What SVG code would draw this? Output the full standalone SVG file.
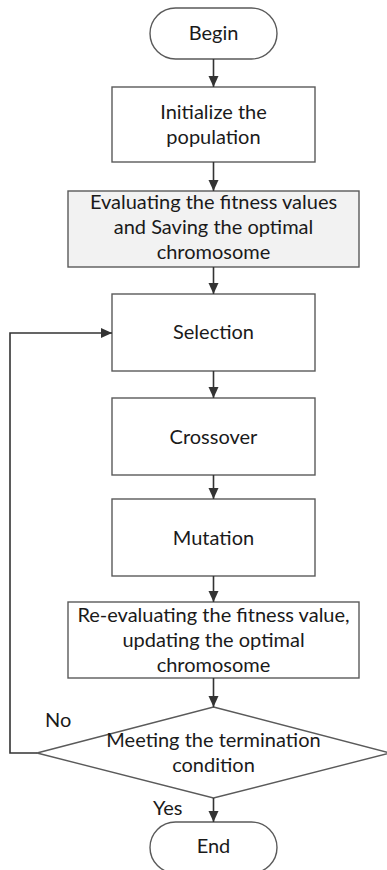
<svg xmlns="http://www.w3.org/2000/svg" width="387" height="870" viewBox="0 0 387 870">
<defs>
<marker id="ah" markerWidth="12" markerHeight="12" refX="11" refY="5" orient="auto" markerUnits="userSpaceOnUse">
<path d="M0,0 L11,5 L0,10 z" fill="#333"/>
</marker>
</defs>
<style>
.box{fill:#fff;stroke:#5a5a5a;stroke-width:1.4}
.gray{fill:#f2f2f2}
.t{font-family:Lato,"Liberation Sans",sans-serif;font-size:20px;fill:#1a1a1a;text-anchor:middle}
.lb{font-family:Lato,"Liberation Sans",sans-serif;font-size:20px;fill:#1a1a1a}
.c{fill:none;stroke:#333;stroke-width:1.6;marker-end:url(#ah)}
</style>
<rect width="387" height="870" fill="#fff"/>
<g id="begin"><rect class="box" x="150" y="8" width="127" height="51" rx="25.5"/><text class="t" x="213.5" y="40">Begin</text></g>
<g id="init"><rect class="box" x="112" y="87" width="203" height="75"/><text class="t" x="213.5" y="119">Initialize the</text><text class="t" x="213.5" y="144">population</text></g>
<g id="eval"><rect class="box gray" x="68" y="191" width="291" height="76"/><text class="t" x="213.5" y="209">Evaluating the fitness values</text><text class="t" x="213.5" y="234">and Saving the optimal</text><text class="t" x="213.5" y="259">chromosome</text></g>
<g id="selection"><rect class="box" x="112" y="294" width="203" height="77"/><text class="t" x="213.5" y="339">Selection</text></g>
<g id="crossover"><rect class="box" x="112" y="398" width="203" height="77"/><text class="t" x="213.5" y="444">Crossover</text></g>
<g id="mutation"><rect class="box" x="112" y="499" width="203" height="77"/><text class="t" x="213.5" y="545">Mutation</text></g>
<g id="reeval"><rect class="box" x="68" y="602" width="291" height="76"/><text class="t" x="213.5" y="622">Re-evaluating the fitness value,</text><text class="t" x="213.5" y="647">updating the optimal</text><text class="t" x="213.5" y="672">chromosome</text></g>
<g id="decision"><polygon class="box" points="213.5,707 390,753 213.5,798 37,753"/><text class="t" x="213.5" y="747">Meeting the termination</text><text class="t" x="213.5" y="772">condition</text></g>
<g id="end"><rect class="box" x="150" y="822" width="127" height="51" rx="25.5"/><text class="t" x="213.5" y="853">End</text></g>
<g id="connectors">
<line class="c" x1="213.5" y1="59" x2="213.5" y2="87"/>
<line class="c" x1="213.5" y1="162" x2="213.5" y2="191"/>
<line class="c" x1="213.5" y1="267" x2="213.5" y2="294"/>
<line class="c" x1="213.5" y1="371" x2="213.5" y2="398"/>
<line class="c" x1="213.5" y1="475" x2="213.5" y2="499"/>
<line class="c" x1="213.5" y1="576" x2="213.5" y2="602"/>
<line class="c" x1="213.5" y1="678" x2="213.5" y2="707"/>
<line class="c" x1="213.5" y1="798" x2="213.5" y2="822"/>
<polyline class="c" points="37,753 10,753 10,333 112,333"/>
<text class="lb" x="45" y="727">No</text>
<text class="lb" x="153" y="815">Yes</text>
</g>
</svg>
